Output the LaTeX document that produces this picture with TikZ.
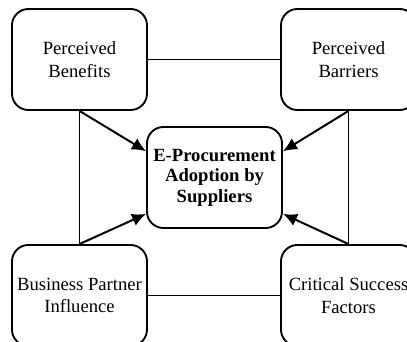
\documentclass[tikz,border=0pt]{standalone}
\usepackage{fontspec}
\setmainfont{Liberation Serif}
\usetikzlibrary{arrows.meta}
\tikzstyle{factor}=[draw, rounded corners=14pt, line width=1.6pt, minimum width=4.05cm, minimum height=3.03cm, align=center, inner sep=0pt, font=\fontsize{15.9}{19.2}\selectfont]
\tikzstyle{outcome}=[factor, font=\fontsize{15.9}{17.5}\selectfont\bfseries]
\tikzstyle{link}=[line width=1.7pt]
\tikzstyle{effect}=[link, -{Latex[length=12pt,width=11pt]}]
\tikzset{y=-0.03cm}
\tikzset{x=0.03cm}
\begin{document}
\begin{tikzpicture}
  \useasboundingbox (0,0) rectangle (407,342);
  \clip (0,0) rectangle (407,342);

  %% the four factors and the outcome
  \draw (79.5,59.5) node[factor] (benefits) {Perceived\\Benefits};
  \draw (348.5,59.5) node[factor] (barriers) {Perceived\\Barriers};
  \draw (79.5,295.5) node[factor] (partner) {Business Partner\\Influence};
  \draw (348.5,295.5) node[factor] (success) {Critical Success\\Factors};
  \draw (214.5,177.5) node[outcome] (adoption) {E-Procurement\\Adoption by\\Suppliers};

  %% links between the factors
  \draw[link] (benefits.east) -- (barriers.west);
  \draw[link] (partner.east) -- (success.west);
  \draw[link] (benefits.south) -- (partner.north);
  \draw[link] (barriers.south) -- (success.north);

  %% effects on adoption
  \draw[effect] (benefits.south) -- (adoption.159);
  \draw[effect] (barriers.south) -- (adoption.21);
  \draw[effect] (partner.north) -- (adoption.208);
  \draw[effect] (success.north) -- (adoption.-28);
\end{tikzpicture}
\end{document}
